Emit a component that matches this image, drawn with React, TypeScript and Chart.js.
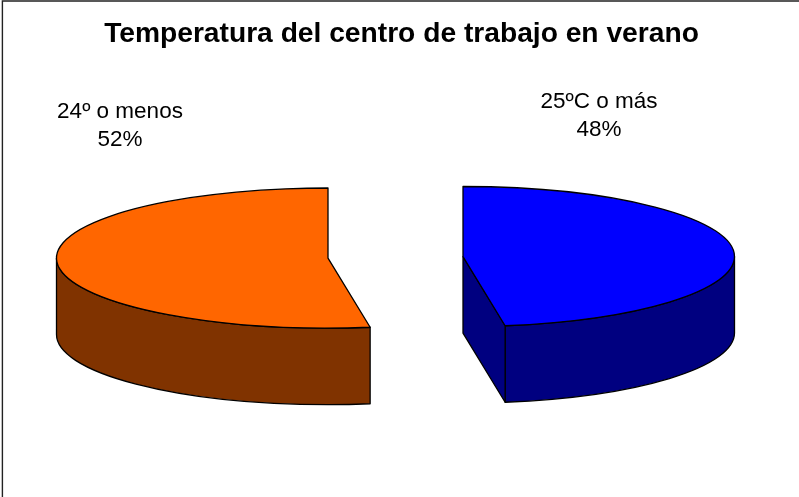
import React, { useEffect, useRef } from "react";
import { Chart, registerables } from "chart.js";

Chart.register(...registerables);

const chartTitle = "Temperatura del centro de trabajo en verano";
const categories = ["25ºC o más", "24º o menos"];
const shares = [47.52, 52.48];
const faceColors = ["#0000FF", "#FF6600"];
const wallColors = ["#000080", "#803300"];

// Presentation of the exploded 3D pie
const tilt = 0.258;
const depth = 76.5;
const explodeX = [61.5, -73.5];
const explodeY = [-2, -0.5];
const labelX = [599, 120];
const labelY = [102, 112];
const FONT = "'Liberation Sans', Arial, sans-serif";

const pie3d = {
  id: "pie3d",
  beforeDatasetDraw(chart: any, args: any) {
    const ctx = chart.ctx;
    args.meta.data.forEach((arc: any, i: number) => {
      const X = arc.x + explodeX[i];
      const Y = arc.y + explodeY[i];
      const R = arc.outerRadius;
      const Ry = R * tilt;
      const a0 = arc.startAngle;
      const a1 = arc.endAngle;
      ctx.save();
      ctx.lineWidth = 1.3;
      ctx.strokeStyle = "#000";
      ctx.lineJoin = "round";
      ctx.fillStyle = wallColors[i];

      // outer wall: the part of the rim facing the viewer
      const w0 = Math.max(a0, 0);
      const w1 = Math.min(a1, Math.PI);
      if (w1 > w0) {
        ctx.beginPath();
        ctx.ellipse(X, Y, R, Ry, 0, w0, w1, false);
        ctx.lineTo(X + R * Math.cos(w1), Y + Ry * Math.sin(w1) + depth);
        ctx.ellipse(X, Y + depth, R, Ry, 0, w1, w0, true);
        ctx.closePath();
        ctx.fill();
        ctx.stroke();
      }
      // radial cut faces, when they face the viewer
      const cut = (a: number) => {
        const px = X + R * Math.cos(a);
        const py = Y + Ry * Math.sin(a);
        ctx.beginPath();
        ctx.moveTo(X, Y);
        ctx.lineTo(px, py);
        ctx.lineTo(px, py + depth);
        ctx.lineTo(X, Y + depth);
        ctx.closePath();
        ctx.fill();
        ctx.stroke();
      };
      if (Math.cos(a1) > 1e-6) cut(a1);
      if (-Math.cos(a0) > 1e-6) cut(a0);

      // top face, drawn by the library's arc element
      ctx.save();
      ctx.translate(X, Y);
      ctx.scale(1, tilt);
      ctx.translate(-arc.x, -arc.y);
      arc.draw(ctx);
      ctx.restore();

      ctx.beginPath();
      ctx.moveTo(X, Y);
      ctx.ellipse(X, Y, R, Ry, 0, a0, a1, false);
      ctx.closePath();
      ctx.stroke();
      ctx.restore();
    });
    return false;
  },
  afterDraw(chart: any) {
    const ctx = chart.ctx;
    ctx.save();
    ctx.fillStyle = "#000";
    ctx.font = `22.5px ${FONT}`;
    ctx.textAlign = "center";
    ctx.textBaseline = "middle";
    categories.forEach((name, i) => {
      ctx.fillText(name, labelX[i], labelY[i]);
      ctx.fillText(`${Math.round(shares[i])}%`, labelX[i], labelY[i] + 28);
    });
    // frame of the picture
    ctx.strokeStyle = "#222";
    ctx.lineWidth = 1.4;
    ctx.beginPath();
    ctx.moveTo(2.4, 497);
    ctx.lineTo(2.4, 1);
    ctx.lineTo(799, 1);
    ctx.stroke();
    ctx.restore();
  },
};

export default function App() {
  const ref = useRef<HTMLCanvasElement>(null);
  useEffect(() => {
    const chart = new Chart(ref.current!, {
      type: "pie",
      data: {
        labels: categories,
        datasets: [
          {
            data: shares,
            backgroundColor: faceColors,
            borderWidth: 0,
            clip: false,
          } as any,
        ],
      },
      options: {
        animation: false,
        responsive: false,
        radius: 271.5,
        rotation: 0,
        layout: { padding: { left: 4, top: 0, right: 0, bottom: 39.4 } },
        events: [],
        plugins: {
          legend: { display: false },
          tooltip: { enabled: false },
          title: {
            display: true,
            text: chartTitle,
            color: "#000",
            font: { family: FONT, size: 28.2, weight: "bold" },
            padding: { top: 17, bottom: 8.7 },
          },
        },
      } as any,
      plugins: [pie3d],
    });
    return () => chart.destroy();
  }, []);
  return (
    <div style={{ position: "fixed", left: 0, top: 0, width: 799, height: 497, background: "#fff" }}>
      <canvas ref={ref} width={799} height={497} style={{ display: "block" }} />
    </div>
  );
}
